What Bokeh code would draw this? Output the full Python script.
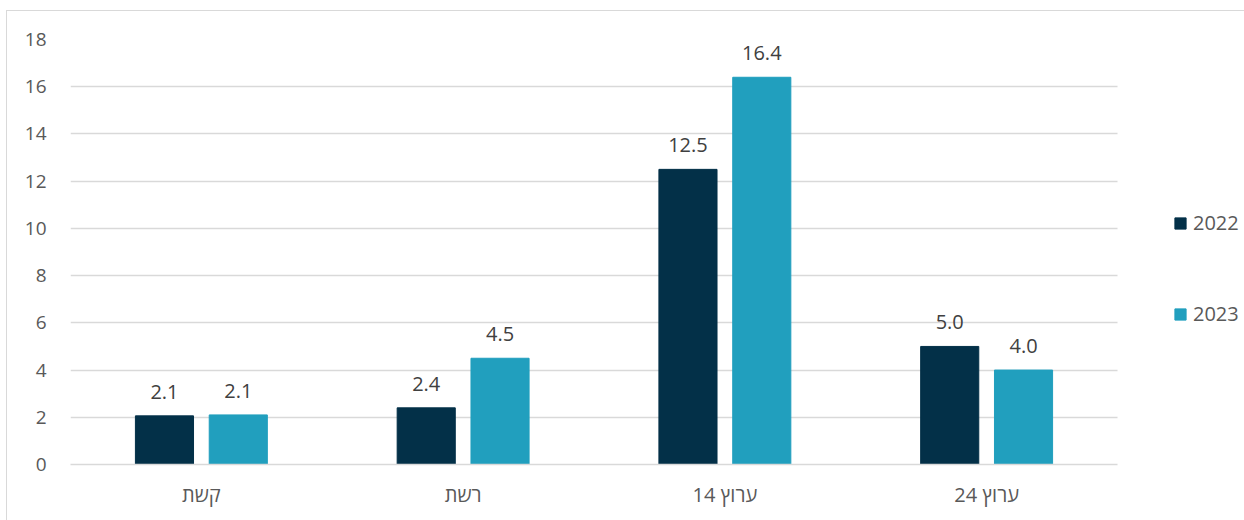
from bokeh.plotting import figure
from bokeh.models import ColumnDataSource, Range1d, Legend, LegendItem, SingleIntervalTicker, FixedTicker
from bokeh.transform import dodge
from bokeh.core.properties import value
from bokeh.embed import file_html
from bokeh.resources import INLINE

categories = ["קשת", "רשת", "ערוץ 14", "ערוץ 24"]
series_names = ["2022", "2023"]
values_2022 = [2.06, 2.4, 12.5, 5.0]
values_2023 = [2.1, 4.5, 16.4, 4.0]
y_ticks = list(range(0, 19, 2))
colors = ["#033048", "#219fbe"]

FONT = "Open Sans, DejaVu Sans, sans-serif"

cat_pos = [i + 0.5 for i in range(len(categories))]
src = ColumnDataSource(dict(
    xc=cat_pos,
    v22=values_2022,
    v23=values_2023,
    l22=[f"{v:.1f}" for v in values_2022],
    l23=[f"{v:.1f}" for v in values_2023],
))

W, H = 1244, 520
LEFT, TOP, BOTTOM = 70, 39, 56
CAT_W = 1047  # pixel width of the category area
frame_w = W - LEFT
x_end = len(categories) * frame_w / CAT_W

p = figure(x_range=Range1d(0, x_end), y_range=Range1d(0, 18),
           width=W, height=H, output_backend="svg", toolbar_location=None,
           min_border_left=LEFT, min_border_right=0, min_border_top=TOP,
           min_border_bottom=BOTTOM)
p.outline_line_color = None
p.background_fill_color = "white"
p.border_fill_alpha = 0
p.styles = {
    "background-color": "white",
    "background-image": "linear-gradient(#d9d9d9,#d9d9d9), linear-gradient(#d9d9d9,#d9d9d9)",
    "background-size": "1px 100%, 100% 1px",
    "background-position": "6px 10px, 6px 10px",
    "background-repeat": "no-repeat",
}

# grid lines limited to the category area
grid_ok = True
try:
    p.ygrid.cross_bounds = (0, len(categories))
except Exception:
    grid_ok = False
if grid_ok:
    p.ygrid.grid_line_color = "#d9d9d9"
    p.ygrid.grid_line_width = 1.3
    p.ygrid.ticker = FixedTicker(ticks=y_ticks)
else:
    p.ygrid.grid_line_color = None
    p.segment(x0=[0] * len(y_ticks), x1=[len(categories)] * len(y_ticks),
              y0=y_ticks, y1=y_ticks, line_color="#d9d9d9", line_width=1.3,
              level="underlay")
p.xgrid.grid_line_color = None

r1 = p.vbar(x=dodge("xc", -0.141), top="v22", width=0.222,
            source=src, fill_color=colors[0], line_color=colors[0])
r2 = p.vbar(x=dodge("xc", 0.141), top="v23", width=0.222,
            source=src, fill_color=colors[1], line_color=colors[1])

p.text(x=dodge("xc", -0.141), y="v22", text="l22", source=src,
       text_align="center", text_baseline="alphabetic", y_offset=-24,
       text_font=value(FONT), text_font_size="20px", text_color="#404040")
p.text(x=dodge("xc", 0.141), y="v23", text="l23", source=src,
       text_align="center", text_baseline="alphabetic", y_offset=-24,
       text_font=value(FONT), text_font_size="20px", text_color="#404040")

# axes
p.yaxis.ticker = FixedTicker(ticks=y_ticks)
p.yaxis.axis_line_color = None
p.yaxis.major_tick_line_color = None
p.yaxis.minor_tick_line_color = None
p.yaxis.major_label_standoff = 18
p.yaxis.major_label_text_font = FONT
p.yaxis.major_label_text_font_size = "19px"
p.yaxis.major_label_text_color = "#595959"

p.xaxis.ticker = FixedTicker(ticks=cat_pos)
p.xaxis.major_label_overrides = {x: c for x, c in zip(cat_pos, categories)}
p.xaxis.bounds = (0, len(categories))
p.xaxis.axis_line_color = "#d9d9d9"
p.xaxis.axis_line_width = 1.3
p.xaxis.major_tick_line_color = None
p.xaxis.minor_tick_line_color = None
p.xaxis.major_label_standoff = 10
p.xaxis.major_label_text_font = FONT
p.xaxis.major_label_text_font_size = "20px"
p.xaxis.major_label_text_color = "#595959"

legend = Legend(items=[LegendItem(label=series_names[0], renderers=[r1]),
                       LegendItem(label=series_names[1], renderers=[r2])],
                location=(1103, 105), orientation="vertical",
                glyph_width=14, glyph_height=14, label_height=91,
                label_standoff=6, spacing=0, padding=0, margin=0,
                border_line_color=None, background_fill_alpha=0,
                label_text_font="Open Sans", label_text_font_size="20px",
                label_text_color="#595959")
p.add_layout(legend, "center")

open("out.html", "w").write(file_html(p, INLINE))
